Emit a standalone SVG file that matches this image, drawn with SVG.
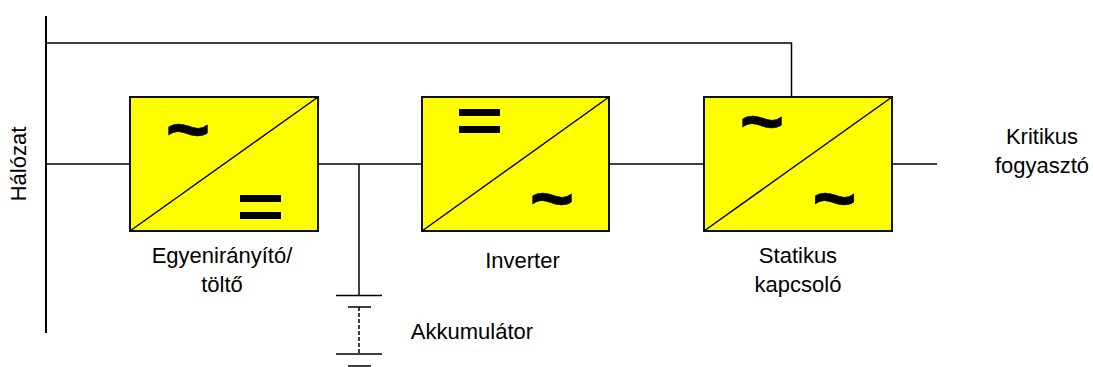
<svg xmlns="http://www.w3.org/2000/svg" width="1093" height="367" viewBox="0 0 1093 367">
<style>
.w{stroke:#000;stroke-width:2;fill:none}
.t{stroke:#000;stroke-width:1.5;fill:none}
.b{fill:#ff0;stroke:#111;stroke-width:2}
.d{stroke:#000;stroke-width:1.5;fill:none}
text{font-family:"Liberation Sans",Arial,sans-serif;font-size:22px;fill:#000;text-anchor:middle}
.s{font-family:"Liberation Sans",Arial,sans-serif;font-weight:bold;font-size:76px;stroke:#000;stroke-width:.6}
</style>
<rect width="1093" height="367" fill="#fff"/>
<g id="connectors">
<path class="w" d="M46 16V333"/>
<path class="t" d="M46 43H791.500V97"/>
<path class="t" d="M46 164H130M318 164H422M609 164H704M892 164H937"/>
<path class="t" d="M359 164V296"/>
</g>
<g id="rectifier">
<rect class="b" x="130" y="97" width="188" height="134"/>
<path class="d" d="M130 231L318 97"/>
<text class="s" x="188" y="154.500">~</text>
<rect x="240" y="195" width="41" height="7"/><rect x="240" y="212" width="41" height="7"/>
<text x="222" y="263">Egyenirányító/</text>
<text x="222" y="292">töltő</text>
</g>
<g id="inverter">
<rect class="b" x="422" y="97" width="187" height="134"/>
<path class="d" d="M422 231L609 97"/>
<rect x="459" y="109" width="41" height="7"/><rect x="459" y="126" width="41" height="7"/>
<text class="s" x="552" y="224">~</text>
<text x="522.500" y="268">Inverter</text>
</g>
<g id="static-switch">
<rect class="b" x="704" y="97" width="188" height="134"/>
<path class="d" d="M704 231L892 97"/>
<text class="s" x="762" y="146.500">~</text>
<text class="s" x="834.500" y="224">~</text>
<text x="798" y="263">Statikus</text>
<text x="798" y="292">kapcsoló</text>
</g>
<g id="battery">
<path class="t" d="M336 295.500H382M348 307H371M336 354H382M348 366H371"/>
<path class="t" d="M359 307V354" stroke-dasharray="4 2"/>
<text x="472" y="339">Akkumulátor</text>
</g>
<g id="grid"><text transform="translate(26 164) rotate(-90)">Hálózat</text></g>
<g id="load">
<text x="1042" y="144">Kritikus</text>
<text x="1042" y="173">fogyasztó</text>
</g>
</svg>
